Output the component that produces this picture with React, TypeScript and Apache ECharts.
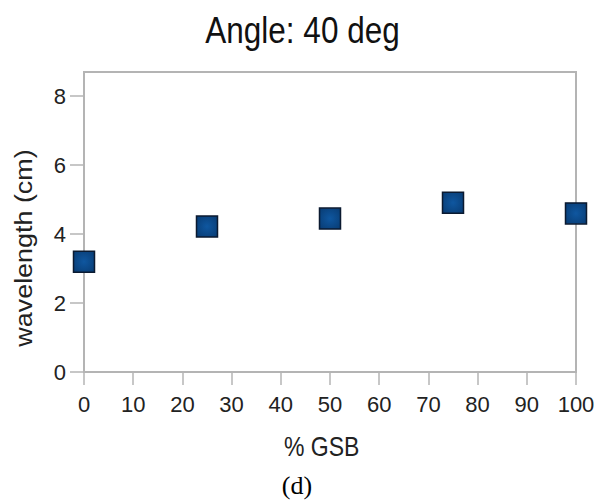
import React, { useEffect, useRef } from "react";
import * as echarts from "echarts";

// Percent GSB on the x axis, measured wavelength (cm) on the y axis
const gsbPercent = [0, 25, 50, 75, 100];
const wavelengthCm = [3.2, 4.22, 4.45, 4.91, 4.6];
const yTickValues = [0, 2, 4, 6, 8];

const chartTitle = "Angle: 40 deg";
const xAxisName = "% GSB";
const yAxisName = "wavelength (cm)";
const panelLabel = "(d)";

const SANS = "'Liberation Sans', Arial, Helvetica, sans-serif";
const SERIF = "'Liberation Serif', 'Times New Roman', Times, serif";
const FRAME = "#b4b4b4";
const INK = "#222222";

export default function App() {
  const ref = useRef<HTMLDivElement>(null);

  useEffect(() => {
    if (!ref.current) return;
    const chart = echarts.init(ref.current, null, { renderer: "svg" });

    const points = gsbPercent.map((x, i) => [x, wavelengthCm[i]]);

    chart.setOption({
      animation: false,
      backgroundColor: "#ffffff",
      grid: {
        left: 84,
        right: 30,
        top: 72,
        bottom: 128,
        show: true,
        borderColor: FRAME,
        borderWidth: 2,
        backgroundColor: "transparent",
      },
      xAxis: {
        type: "value",
        min: 0,
        max: 100,
        interval: 10,
        axisLine: { show: true, lineStyle: { color: FRAME, width: 2 } },
        axisTick: { show: true, inside: false, length: 13, lineStyle: { color: FRAME, width: 1.5 } },
        splitLine: { show: false },
        axisLabel: {
          margin: 21,
          fontFamily: SANS,
          fontSize: 22,
          color: INK,
        },
      },
      yAxis: {
        type: "value",
        min: 0,
        max: 8.7,
        interval: 2,
        axisLine: { show: true, lineStyle: { color: FRAME, width: 2 } },
        axisTick: {
          show: true,
          inside: false,
          length: 14,
          customValues: yTickValues,
          lineStyle: { color: FRAME, width: 1.5 },
        },
        splitLine: { show: false },
        axisLabel: {
          margin: 18,
          customValues: yTickValues,
          fontFamily: SANS,
          fontSize: 22,
          color: INK,
        },
      },
      series: [
        {
          type: "scatter",
          data: points,
          symbol: "rect",
          symbolSize: 21,
          itemStyle: {
            opacity: 1,
            color: {
              type: "radial",
              x: 0.5,
              y: 0.5,
              r: 0.7,
              colorStops: [
                { offset: 0, color: "#0f57a0" },
                { offset: 1, color: "#083b72" },
              ],
            },
            borderColor: "#0b1a30",
            borderWidth: 1.5,
          },
        },
      ],
      graphic: [
        {
          type: "text",
          x: 302.5,
          y: 30.5,
          scaleY: 1.17,
          style: {
            text: chartTitle,
            fontFamily: SANS,
            fontSize: 31.5,
            fill: "#111111",
            align: "center",
            verticalAlign: "middle",
          },
        },
        {
          type: "text",
          x: 24,
          y: 248,
          rotation: Math.PI / 2,
          scaleX: 1.17,
          style: {
            text: yAxisName,
            fontFamily: SANS,
            fontSize: 23,
            fill: INK,
            align: "center",
            verticalAlign: "middle",
          },
        },
        {
          type: "text",
          x: 321.7,
          y: 446,
          scaleY: 1.17,
          style: {
            text: xAxisName,
            fontFamily: SANS,
            fontSize: 23,
            fill: INK,
            align: "center",
            verticalAlign: "middle",
          },
        },
        {
          type: "text",
          x: 297,
          y: 485,
          style: {
            text: panelLabel,
            fontFamily: SERIF,
            fontSize: 26,
            fill: "#000000",
            align: "center",
            verticalAlign: "middle",
          },
        },
      ],
    });

    return () => chart.dispose();
  }, []);

  return (
    <div
      ref={ref}
      style={{ position: "absolute", left: 0, top: 0, width: 606, height: 500 }}
    />
  );
}
